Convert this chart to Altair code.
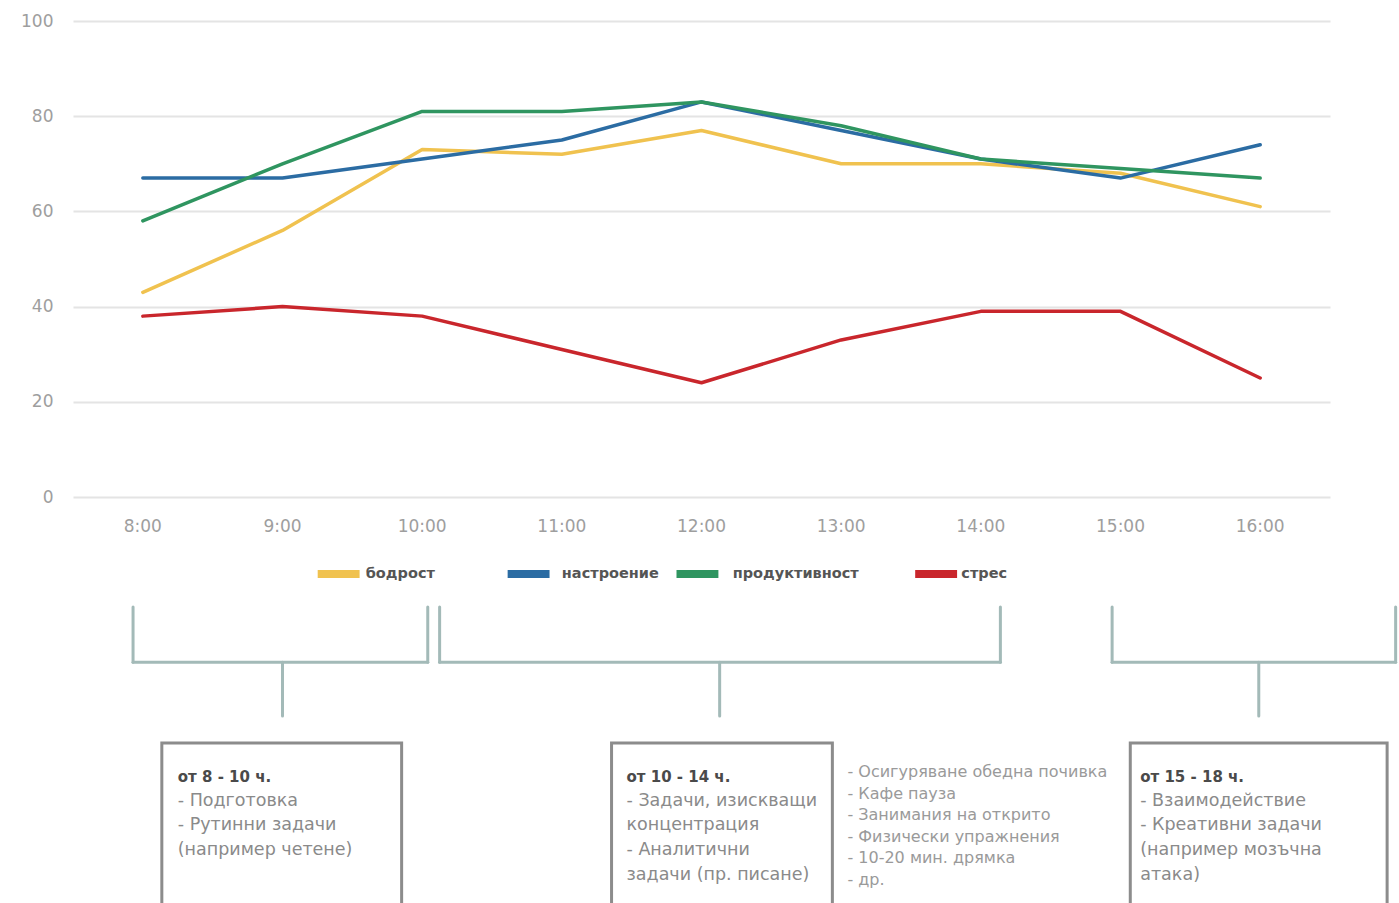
import altair as alt
import pandas as pd

# --- data -------------------------------------------------------------
hours = [8, 9, 10, 11, 12, 13, 14, 15, 16]
hour_labels = ["8:00", "9:00", "10:00", "11:00", "12:00", "13:00", "14:00", "15:00", "16:00"]

series_names = ["бодрост", "настроение", "продуктивност", "стрес"]
series_colors = ["#f0c24f", "#2b6ca3", "#2f9560", "#c9262c"]

bodrost = [43, 56, 73, 72, 77, 70, 70, 68, 61]
nastroenie = [67, 67, 71, 75, 83, 77, 71, 67, 74]
produktivnost = [58, 70, 81, 81, 83, 78, 71, 69, 67]
stres = [38, 40, 38, 31, 24, 33, 39, 39, 25]

y_ticks = [0, 20, 40, 60, 80, 100]

# periods of the working day shown under the chart
period_headers = ["от 8 - 10 ч.", "от 10 - 14 ч.", "от 15 - 18 ч."]
period_lines = [
    ["- Подготовка", "- Рутинни задачи", "(например четене)"],
    ["- Задачи, изискващи", "концентрация", "- Аналитични", "задачи (пр. писане)"],
    ["- Взаимодействие", "- Креативни задачи", "(например мозъчна", "атака)"],
]
break_lines = [
    "- Осигуряване обедна почивка",
    "- Кафе пауза",
    "- Занимания на открито",
    "- Физически упражнения",
    "- 10-20 мин. дрямка",
    "- др.",
]

# --- layout of the annotation area (in axis units: hours / score) ------
bracket_left = [7.93, 10.125, 14.94]
bracket_right = [10.04, 14.14, 16.97]
bracket_stem = [9.0, 12.13, 15.99]
bracket_top, bracket_bar, bracket_bottom = -23.1, -34.7, -46.0

box_left = [8.136, 11.356, 15.07]
box_right = [9.853, 12.937, 16.909]
box_top, box_bottom = -51.7, -110.0
text_left = [8.25, 11.463, 15.141]
header_y, body_y0, body_step = -58.8, -63.8, 5.2
break_x, break_y0, break_step = 13.045, -57.8, 4.52

legend_y = -16.2
legend_start = [9.252, 10.612, 11.821, 13.53]
legend_swatch = 0.30
legend_label_start = [9.596, 11.0, 12.223, 13.86]

x_label_y = -6.3

# --- tables -------------------------------------------------------------
values = [bodrost, nastroenie, produktivnost, stres]
lines_df = pd.DataFrame(
    [
        {"x": h, "y": v, "series": name}
        for name, vals in zip(series_names, values)
        for h, v in zip(hours, vals)
    ]
)

xlab_df = pd.DataFrame({"x": hours, "y": [x_label_y] * len(hours), "label": hour_labels})

legend_df = pd.DataFrame(
    {
        "x": legend_start,
        "x2": [s + legend_swatch for s in legend_start],
        "lx": legend_label_start,
        "y": [legend_y] * 4,
        "series": series_names,
    }
)

seg_rows = []
for l, r, s in zip(bracket_left, bracket_right, bracket_stem):
    seg_rows += [
        {"x": l, "x2": l, "y": bracket_top, "y2": bracket_bar},
        {"x": l, "x2": r, "y": bracket_bar, "y2": bracket_bar},
        {"x": r, "x2": r, "y": bracket_bar, "y2": bracket_top},
        {"x": s, "x2": s, "y": bracket_bar, "y2": bracket_bottom},
    ]
seg_df = pd.DataFrame(seg_rows)

box_df = pd.DataFrame(
    {"x": box_left, "x2": box_right, "y": [box_top] * 3, "y2": [box_bottom] * 3}
)

head_df = pd.DataFrame({"x": text_left, "y": [header_y] * 3, "text": period_headers})

body_rows = []
for tx, lines in zip(text_left, period_lines):
    for i, t in enumerate(lines):
        body_rows.append({"x": tx, "y": body_y0 - i * body_step, "text": t})
body_df = pd.DataFrame(body_rows)

break_df = pd.DataFrame(
    {
        "x": [break_x] * len(break_lines),
        "y": [break_y0 - i * break_step for i in range(len(break_lines))],
        "text": break_lines,
    }
)

# --- shared scales --------------------------------------------------------
x_scale = alt.Scale(domain=[7.5, 16.5], nice=False, zero=False)
y_scale = alt.Scale(domain=[-84.66, 100], nice=False, zero=False)
y_axis = alt.Axis(
    values=y_ticks,
    grid=True,
    gridColor="#e4e4e4",
    gridWidth=2,
    domain=False,
    ticks=False,
    labelColor="#9e9e9e",
    labelFontSize=17,
    labelPadding=20,
    title=None,
)
color_scale = alt.Scale(domain=series_names, range=series_colors)


def X(field="x"):
    return alt.X(f"{field}:Q", scale=x_scale, axis=None)


def Y(field="y"):
    return alt.Y(f"{field}:Q", scale=y_scale, axis=y_axis)


# --- layers -----------------------------------------------------------------
hour_ticks = alt.Chart(xlab_df).mark_text(
    fontSize=17, color="#9e9e9e", align="center", baseline="middle"
).encode(x=X(), y=Y(), text="label:N")

brackets = alt.Chart(seg_df).mark_rule(
    color="#a3bab8", strokeWidth=3, strokeCap="round"
).encode(x=X(), x2="x2:Q", y=Y(), y2="y2:Q")

boxes = alt.Chart(box_df).mark_rect(
    fill="white", stroke="#8c8c8c", strokeWidth=3
).encode(x=X(), x2="x2:Q", y=Y(), y2="y2:Q")

headers = alt.Chart(head_df).mark_text(
    align="left", baseline="middle", fontSize=15, fontWeight="bold", color="#4a4a4a"
).encode(x=X(), y=Y(), text="text:N")

bodies = alt.Chart(body_df).mark_text(
    align="left", baseline="middle", fontSize=17.5, color="#8a8a8a"
).encode(x=X(), y=Y(), text="text:N")

breaks = alt.Chart(break_df).mark_text(
    align="left", baseline="middle", fontSize=16, color="#9a9a9a"
).encode(x=X(), y=Y(), text="text:N")

legend_swatches = alt.Chart(legend_df).mark_rule(strokeWidth=8).encode(
    x=X(), x2="x2:Q", y=Y(),
    color=alt.Color("series:N", scale=color_scale, legend=None),
)

legend_labels = alt.Chart(legend_df).mark_text(
    align="left", baseline="middle", fontSize=14.5, fontWeight="bold", color="#555555"
).encode(x=X("lx"), y=Y(), text="series:N")

series_lines = alt.Chart(lines_df).mark_line(
    strokeWidth=3.5, strokeJoin="round", strokeCap="round"
).encode(
    x=X(),
    y=Y(),
    color=alt.Color("series:N", scale=color_scale, legend=None),
    detail="series:N",
)

chart = (
    alt.layer(
        hour_ticks,
        brackets,
        boxes,
        headers,
        bodies,
        breaks,
        legend_swatches,
        legend_labels,
        series_lines,
    )
    .properties(
        width=1257,
        height=879,
        autosize=alt.AutoSizeParams(type="none"),
        padding={"left": 73, "top": 21, "right": 69, "bottom": 3},
        background="white",
    )
    .configure(font="DejaVu Sans")
    .configure_view(stroke=None)
)

chart.save("out.html", embed_options={"renderer": "svg", "actions": False})
